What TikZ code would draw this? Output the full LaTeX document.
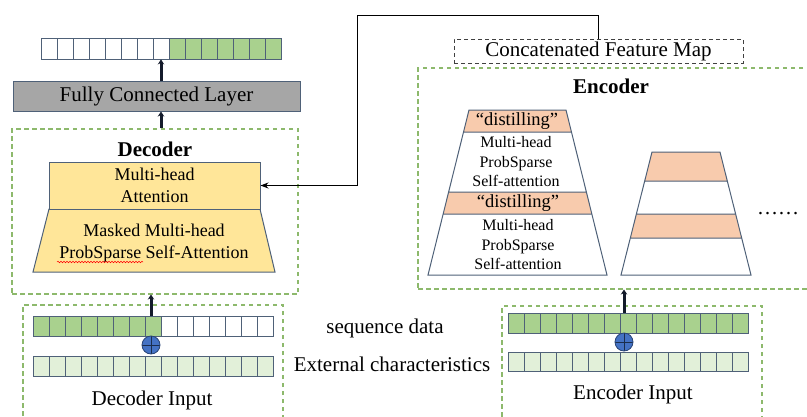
\documentclass[tikz,border=0pt]{standalone}
\usepackage{fontspec}
\setmainfont{Liberation Serif}
\usepackage{tikz}
\usetikzlibrary{arrows.meta, positioning, calc, decorations.pathmorphing}
\definecolor{cellgreen}{HTML}{A9D18E}
\definecolor{celllight}{HTML}{E2F0D9}
\definecolor{cellline}{HTML}{4F6178}
\definecolor{fcgray}{HTML}{A6A6A6}
\definecolor{attnyellow}{HTML}{FFE699}
\definecolor{distorange}{HTML}{F8CBAD}
\definecolor{dashgreen}{HTML}{8DB96C}
\definecolor{plusblue}{HTML}{4472C4}
\definecolor{arrowdark}{HTML}{141B2B}
\newcommand{\seqfont}{\fontsize{21}{25}\selectfont}
\newcommand{\blkfont}{\fontsize{18}{21.5}\selectfont}
\newcommand{\encfont}{\fontsize{16}{19.5}\selectfont}

\begin{document}
\begin{tikzpicture}[
  x=1pt, y=-1pt,
  >=Stealth,
  cell/.style={draw=cellline, line width=0.9pt, minimum width=16pt,
               minimum height=#1, inner sep=0pt},
  dashbox/.style={draw=dashgreen, line width=1.1pt, dash pattern=on 4.5pt off 3.5pt,
                  inner sep=0pt},
  label/.style={font=\seqfont, inner sep=0pt},
  up/.style={-{Stealth[length=5pt,width=6.5pt]}, line width=3pt, draw=arrowdark},
  plus/.style={circle, draw=plusblue!60!black, fill=plusblue, line width=0.8pt,
               minimum size=18pt, inner sep=0pt,
               path picture={\draw[plusblue!40!black, line width=0.8pt]
                 (path picture bounding box.north) -- (path picture bounding box.south)
                 (path picture bounding box.west) -- (path picture bounding box.east);}},
]
  \useasboundingbox (0,0) rectangle (807,416);

  % --- output sequence and fully connected layer --------------------
  \foreach \i in {1,...,8} \node[cell=21pt, fill=white] (dt\i) at ({33+16*\i},48.5) {};
  \foreach \i in {9,...,15} \node[cell=21pt, fill=cellgreen] (dt\i) at ({33+16*\i},48.5) {};
  \node[draw=cellline, line width=1pt, fill=fcgray, minimum width=287pt,
        minimum height=30pt, inner sep=0pt, font=\seqfont] (fc) at (156.5,96)
        {Fully Connected Layer};

  % --- decoder ------------------------------------------------------
  \node[dashbox, minimum width=286pt, minimum height=165pt] (dec) at (155,211.5) {};
  \node[label, font=\seqfont\bfseries] (declab) at (155,149) {Decoder};
  \draw[draw=cellline, line width=1pt, fill=attnyellow]
    (49,209) -- (260,209) -- (275,272) -- (33,272) -- cycle;
  \node[label, font=\blkfont, align=center] (mmha) at (154,243)
    {Masked Multi-head\\ProbSparse Self-Attention};
  \draw[red, line width=0.5pt, decorate,
        decoration={snake, amplitude=0.8pt, segment length=3pt}] (57,262) -- (143,262);
  \node[draw=cellline, line width=1pt, fill=attnyellow, minimum width=211pt,
        minimum height=47pt, inner sep=0pt, font=\blkfont, align=center] (mha)
        at (154.5,185.5) {Multi-head\\Attention};

  \draw[up] (dec.north -| dt8) -- (fc.south -| dt8);
  \draw[up] (fc.north -| dt8) -- (dt8.south);

  % --- decoder input ------------------------------------------------
  \node[dashbox, minimum width=260pt, minimum height=118pt] (decin) at (153,364) {};
  \foreach \i in {1,...,8} \node[cell=20pt, fill=cellgreen] (dg\i) at ({25+16*\i},326) {};
  \foreach \i in {9,...,15} \node[cell=20pt, fill=white] (dg\i) at ({25+16*\i},326) {};
  \foreach \i in {1,...,15} \node[cell=20pt, fill=celllight] (dl\i) at ({25+16*\i},366) {};
  \node[plus] (dplus) at (151,345) {};
  \node[label] (decinlab) at (152,400) {Decoder Input};
  \draw[up] (dg8.north -| dplus) -- (dplus |- dec.south);

  % --- middle labels ------------------------------------------------
  \node[label] (seqlab) at (385,328) {sequence data};
  \node[label] (extlab) at (392,364) {External characteristics};

  % --- encoder ------------------------------------------------------
  \node[draw=black!75, line width=1pt, dash pattern=on 4pt off 3pt, minimum width=289pt,
        minimum height=24pt, inner sep=0pt, font=\seqfont] (cfm) at (598.5,51)
        {Concatenated Feature Map};
  \node[dashbox, minimum width=394pt, minimum height=221pt] (enc) at (615,178.5) {};
  \node[label, font=\seqfont\bfseries] (enclab) at (611,86) {Encoder};

  % left stack
  \fill[white] (469,110) -- (566,110) -- (607,275) -- (428,275) -- cycle;
  \fill[distorange] (469,110) -- (566,110) -- (571.47,132) -- (463.53,132) -- cycle;
  \fill[distorange] (448.62,192) -- (586.38,192) -- (591.84,214) -- (443.16,214) -- cycle;
  \draw[cellline, line width=1pt] (469,110) -- (566,110) -- (607,275) -- (428,275) -- cycle
    (463.53,132) -- (571.47,132) (448.62,192) -- (586.38,192) (443.16,214) -- (591.84,214);
  \node[label, font=\fontsize{18.5}{22}\selectfont] (dist1) at (517,121) {“distilling”};
  \node[label, font=\encfont, align=center] (attn1) at (516,162)
    {Multi-head\\ProbSparse\\Self-attention};
  \node[label, font=\fontsize{18.5}{22}\selectfont] (dist2) at (518,203) {“distilling”};
  \node[label, font=\encfont, align=center] (attn2) at (518,245)
    {Multi-head\\ProbSparse\\Self-attention};

  % right stack
  \fill[white] (652,152) -- (720,152) -- (751,275) -- (621,275) -- cycle;
  \fill[distorange] (652,152) -- (720,152) -- (727.31,181) -- (644.69,181) -- cycle;
  \fill[distorange] (636.37,214) -- (735.63,214) -- (741.67,238) -- (630.33,238) -- cycle;
  \draw[cellline, line width=1pt] (652,152) -- (720,152) -- (751,275) -- (621,275) -- cycle
    (644.69,181) -- (727.31,181) (636.37,214) -- (735.63,214) (630.33,238) -- (741.67,238);
  \node[label, anchor=base west] (dots) at (757,214) {……};

  % --- encoder input ------------------------------------------------
  \node[dashbox, minimum width=260pt, minimum height=118pt] (encin) at (632,365) {};
  \foreach \i in {1,...,15} \node[cell=20pt, fill=cellgreen] (eg\i) at ({500+16*\i},323) {};
  \foreach \i in {1,...,15} \node[cell=19pt, fill=celllight] (el\i) at ({500+16*\i},361.5) {};
  \node[plus] (eplus) at (624,342) {};
  \node[label] (encinlab) at (633,394) {Encoder Input};
  \draw[up] (eg8.north -| eplus) -- (eplus |- enc.south);

  % --- feature map to decoder attention -----------------------------
  \coordinate (bend) at (357,15);
  \draw[->, line width=1pt, >={Stealth[length=8pt,width=6pt]}] (cfm.north) |- (bend) |- (mha.east);
\end{tikzpicture}
\end{document}
